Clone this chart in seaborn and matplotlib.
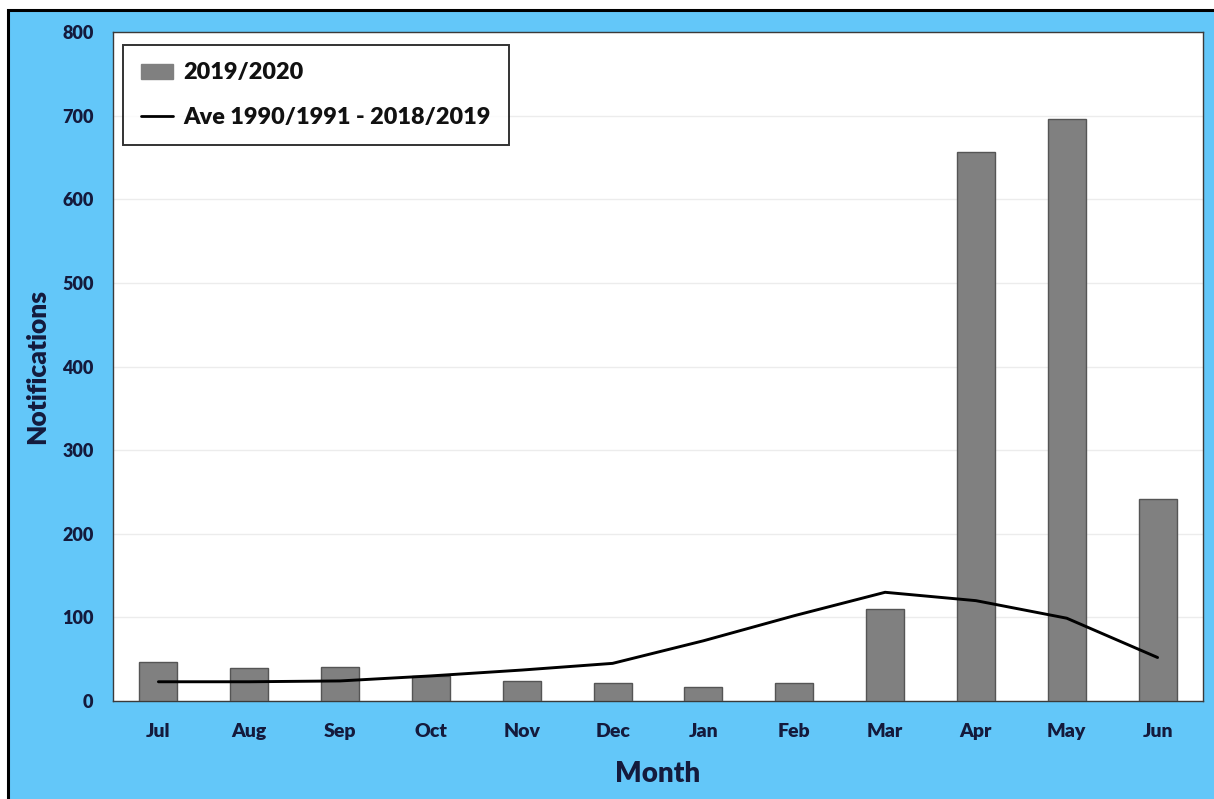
import numpy as np
import pandas as pd
import matplotlib
matplotlib.use("Agg")
import matplotlib.pyplot as plt
from matplotlib.patches import Rectangle
from matplotlib.lines import Line2D
from matplotlib.patches import Patch
import seaborn as sns

months = ["Jul", "Aug", "Sep", "Oct", "Nov", "Dec",
          "Jan", "Feb", "Mar", "Apr", "May", "Jun"]
season_2019_2020 = [47, 40, 41, 30, 24, 22, 17, 21, 110, 657, 696, 242]
average_1990_2019 = [23, 23, 24, 30, 37, 45, 72, 102, 130, 120, 99, 52]
y_ticks = [0, 100, 200, 300, 400, 500, 600, 700, 800]

sns.set_theme(style="white")
plt.rcParams["font.family"] = ["Lato", "DejaVu Sans"]

text_color = "#141a3c"
panel_blue = "#63c7f9"
weight = "heavy"

fig = plt.figure(figsize=(12.14, 7.99), dpi=100, facecolor="white")

# blue panel with a black frame on the left and top
frame = Rectangle((8 / 1214, -0.02), 1.02, 1.02 - 10 / 799,
                  transform=fig.transFigure, facecolor=panel_blue,
                  edgecolor="black", linewidth=2.2, zorder=-10)
fig.patches.append(frame)

ax = fig.add_axes([113 / 1214, 98 / 799, 1090 / 1214, 669 / 799])
ax.set_facecolor("white")

df = pd.DataFrame({"Month": months,
                   "Season": season_2019_2020,
                   "Average": average_1990_2019})

sns.barplot(data=df, x="Month", y="Season", ax=ax, color="#808080",
            saturation=1, width=0.42, edgecolor="#555555", linewidth=1,
            zorder=3)
sns.lineplot(x=np.arange(len(months)), y=df["Average"], ax=ax,
             color="black", linewidth=2.1, zorder=4)

ax.set_xlim(-0.5, len(months) - 0.5)
ax.set_ylim(0, 800)
ax.set_yticks(y_ticks)
ax.yaxis.grid(True, color="#ececec", linewidth=1, zorder=0)
ax.set_axisbelow(True)

ax.tick_params(axis="x", length=0, pad=16, labelsize=14, labelcolor=text_color)
ax.tick_params(axis="y", length=0, pad=14, labelsize=13, labelcolor=text_color)
for lab in ax.get_xticklabels() + ax.get_yticklabels():
    lab.set_fontweight(weight)

ax.set_xlabel("Month", fontsize=20, fontweight=weight, color=text_color,
              labelpad=15)
ax.set_ylabel("Notifications", fontsize=19, fontweight=weight,
              color=text_color, labelpad=9)

for side in ["left", "top", "right", "bottom"]:
    ax.spines[side].set_visible(True)
    ax.spines[side].set_color("#3a3a3a")
    ax.spines[side].set_linewidth(1.0)

handles = [Patch(facecolor="#808080", edgecolor="#808080"),
           Line2D([0], [0], color="black", linewidth=2.0)]
leg = ax.legend(handles, ["2019/2020", "Ave 1990/1991 - 2018/2019"],
                loc="upper left", bbox_to_anchor=(10 / 1090, 1 - 13 / 669),
                borderaxespad=0, fontsize=16.8, frameon=True, fancybox=False,
                edgecolor="black", handlelength=1.4, handleheight=0.6,
                borderpad=0.75, labelspacing=1.0, handletextpad=0.45)
leg.get_frame().set_linewidth(1.4)
for t in leg.get_texts():
    t.set_fontweight(weight)
    t.set_color("#111111")

fig.savefig("out.png", dpi=100, facecolor=fig.get_facecolor())
